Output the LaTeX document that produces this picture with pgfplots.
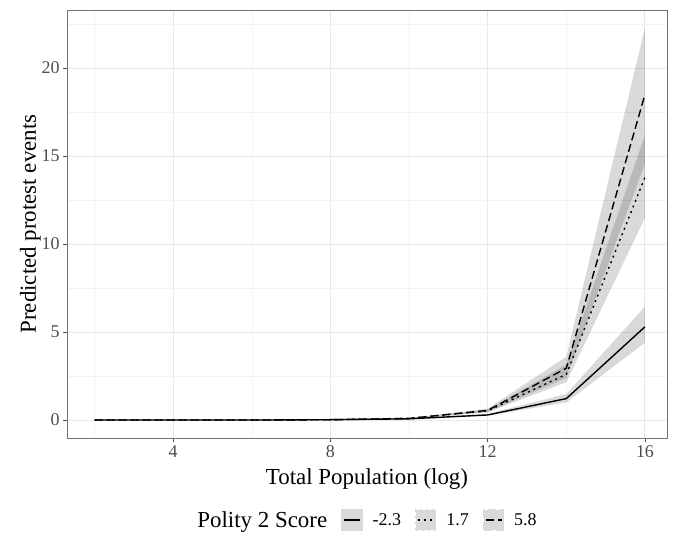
\documentclass[border=0pt]{standalone}
\usepackage{fontspec}
\setmainfont{Liberation Serif}
\usepackage{pgfplots}
\usepackage{pgfplotstable}
\pgfplotsset{compat=1.18}
\usepgfplotslibrary{fillbetween}

% x = log population; m/lo/hi = prediction and interval
\pgfplotstableread{
x   m     lo    hi
2   0.00  0.00  0.00
4   0.00  0.00  0.00
6   0.00  0.00  0.01
8   0.02  0.01  0.03
10  0.07  0.05  0.09
12  0.29  0.24  0.35
14  1.22  1.00  1.48
16  5.30  4.40  6.45
}\lowtab
\pgfplotstableread{
x   m     lo    hi
2   0.00  0.00  0.00
4   0.00  0.00  0.00
6   0.00  0.00  0.01
8   0.02  0.01  0.03
10  0.10  0.08  0.12
12  0.52  0.44  0.60
14  2.60  2.15  3.15
16  13.80 11.50 16.20
}\midtab
\pgfplotstableread{
x   m     lo    hi
2   0.00  0.00  0.00
4   0.00  0.00  0.00
6   0.00  0.00  0.01
8   0.02  0.01  0.03
10  0.09  0.07  0.11
12  0.55  0.46  0.65
14  2.95  2.40  3.60
16  18.50 14.60 22.30
}\hightab

\begin{document}
\begin{tikzpicture}
\begin{axis}[
  scale only axis, width=600bp, height=428bp,
  xmin=1.3, xmax=16.56, ymin=-1.02, ymax=23.3,
  xtick={4,8,12,16}, ytick={0,5,10,15,20},
  minor xtick={2,6,10,14}, minor ytick={2.5,7.5,12.5,17.5,22.5},
  xtick pos=lower, ytick pos=left,
  grid=both,
  major grid style={color=black!9, line width=1bp},
  minor grid style={color=black!5, line width=0.5bp},
  axis line style={black!55, line width=0.8bp},
  tick align=outside, major tick length=4bp, minor tick length=0pt,
  tick style={black!70, line width=0.8bp},
  /pgf/number format/assume math mode=true,
  ticklabel style={font=\fontsize{18}{18}\selectfont, text=black!70},
  xlabel={Total Population (log)}, ylabel={Predicted protest events},
  label style={font=\fontsize{23}{23}\selectfont},
  ylabel style={yshift=-6bp},
  xlabel style={yshift=-4bp},
  legend columns=-1,
  legend style={at={(0.5,-0.192)}, anchor=center, draw=none, fill=none,
    font=\fontsize{18}{18}\selectfont,
    /tikz/every even column/.append style={column sep=12bp}},
  legend image code/.code={\fill[black!15] (0bp,-10bp) rectangle (20bp,10bp);
    \draw[#1] (2bp,0bp) -- (18bp,0bp);},
]
\addlegendimage{empty legend}
\addlegendentry{\fontsize{23}{23}\selectfont Polity 2 Score}

\addplot[draw=none, name path=l1, forget plot] table[x=x,y=lo]{\lowtab};
\addplot[draw=none, name path=h1, forget plot] table[x=x,y=hi]{\lowtab};
\addplot[fill=black, fill opacity=0.15, draw=none, forget plot] fill between[of=l1 and h1];
\addplot[draw=none, name path=l2, forget plot] table[x=x,y=lo]{\midtab};
\addplot[draw=none, name path=h2, forget plot] table[x=x,y=hi]{\midtab};
\addplot[fill=black, fill opacity=0.15, draw=none, forget plot] fill between[of=l2 and h2];
\addplot[draw=none, name path=l3, forget plot] table[x=x,y=lo]{\hightab};
\addplot[draw=none, name path=h3, forget plot] table[x=x,y=hi]{\hightab};
\addplot[fill=black, fill opacity=0.15, draw=none, forget plot] fill between[of=l3 and h3];

\addplot[black, line width=1.4bp, solid] table[x=x,y=m]{\lowtab};
\addlegendentry{\hspace{8bp}-2.3}
\addplot[black, line width=1.4bp, dash pattern=on 2bp off 4bp] table[x=x,y=m]{\midtab};
\addlegendentry{\hspace{8bp}1.7}
\addplot[black, line width=1.4bp, dash pattern=on 8bp off 4bp] table[x=x,y=m]{\hightab};
\addlegendentry{\hspace{8bp}5.8}
\end{axis}
\pgfresetboundingbox
\path ([shift={(-67bp,-96bp)}]current axis.south west) rectangle ([shift={(11bp,10bp)}]current axis.north east);
\end{tikzpicture}
\end{document}
